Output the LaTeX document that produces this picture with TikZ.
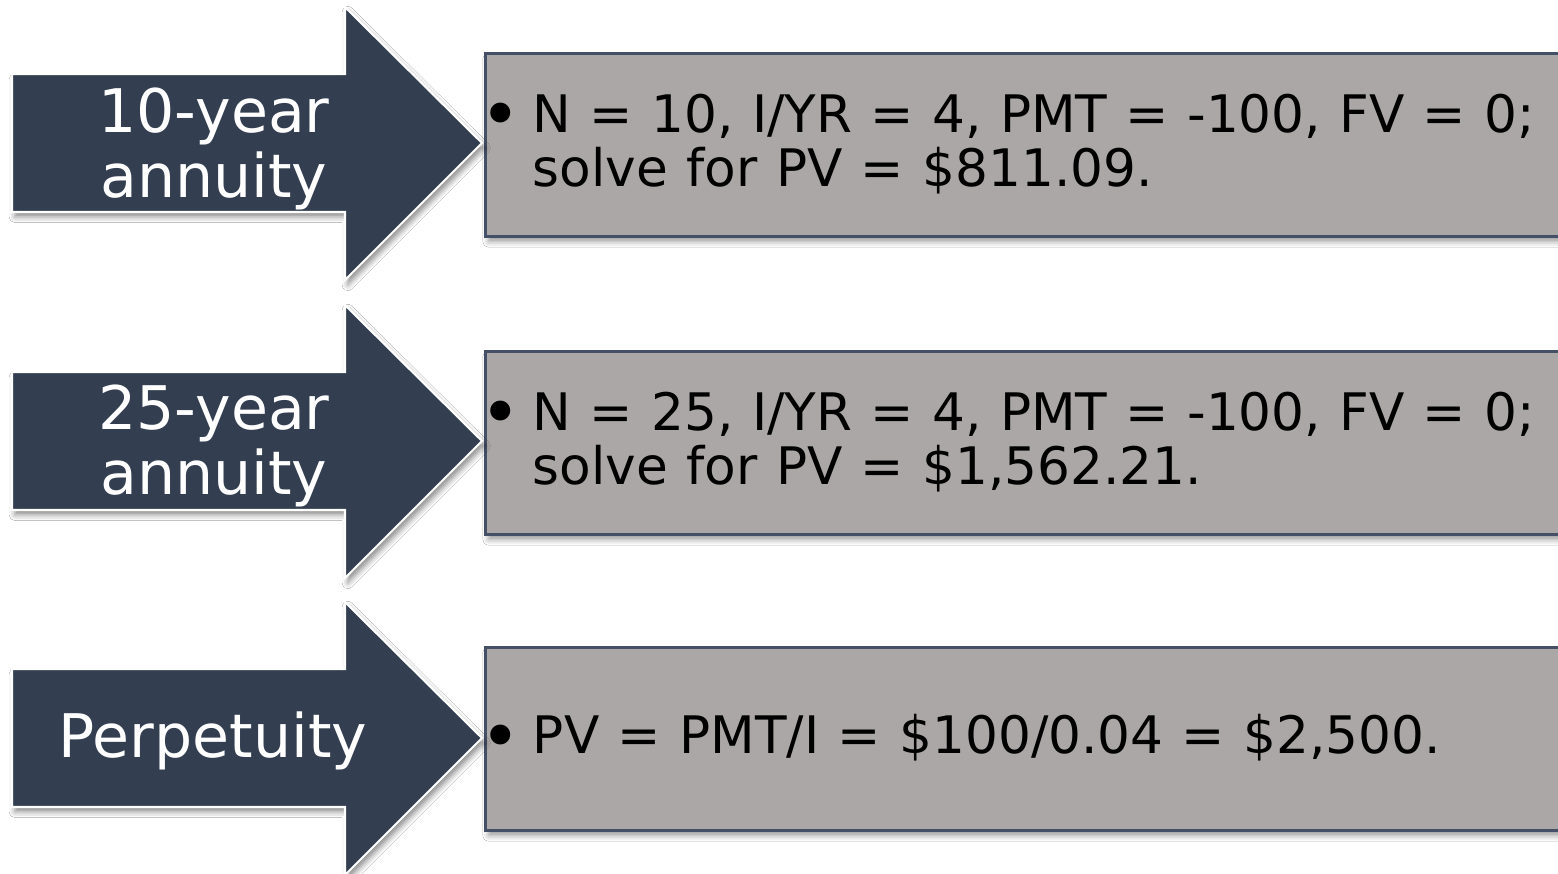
\documentclass[tikz,border=0pt]{standalone}
\usepackage{fontspec}
\setmainfont{DejaVu Sans}
\usetikzlibrary{shadows.blur}
\definecolor{arrowfill}{HTML}{333F50}
\definecolor{boxfill}{HTML}{ABA7A6}
\definecolor{boxline}{HTML}{435066}
\newcommand{\infofont}{\fontsize{14.7}{15.4}\selectfont\spaceskip 0.355em plus 0.1em minus 0.05em\relax}
\newcommand{\bigbul}{\makebox[12.3pt][l]{\hspace*{-2.6pt}\raisebox{-1.9pt}{\fontsize{19.5}{20}\selectfont\textbullet}}}
\begin{document}
\begin{tikzpicture}[x=0.01cm,y=-0.01cm,
  arrowshape/.style={fill=arrowfill, draw=white, line width=0.6pt, line join=miter,
    blur shadow={shadow xshift=0.8pt, shadow yshift=-1.4pt, shadow blur radius=1.6pt, shadow opacity=45}},
  arrowlabel/.style={text=white, align=center, inner sep=0pt,
    font=\fontsize{17.1}{18.5}\selectfont},
  infobox/.style={rectangle, fill=boxfill, draw=boxline, line width=0.9pt,
    anchor=north west, minimum width=11.6cm, minimum height=1.83cm, inner sep=0pt,
    blur shadow={shadow xshift=0.8pt, shadow yshift=-1.4pt, shadow blur radius=1.6pt, shadow opacity=40}},
  infotext/.style={anchor=west, align=left, inner sep=0pt, text=black, font=\infofont}
]
\useasboundingbox (0,0) rectangle (1558,874);
\clip (0,0) rectangle (1558,874);
\fill[white] (0,0) rectangle (1558,874);

% boxes
\node[infobox] (box1) at (484,52) {};
\node[infobox] (box2) at (484,350) {};
\node[infobox] (box3) at (484,646) {};

% arrows
\foreach \yc in {143,441,738}{
  \draw[arrowshape] (12,\yc-69) -- (345,\yc-69) -- (345,\yc-136) -- (482,\yc)
    -- (345,\yc+137) -- (345,\yc+69) -- (12,\yc+69) -- cycle;
}

% arrow labels
\node[arrowlabel] (lab1) at (214,149) {10-year\\annuity};
\node[arrowlabel] (lab2) at (214,446) {25-year\\annuity};
\node[arrowlabel] (lab3) at (213,741) {Perpetuity};

% box texts
\node[infotext] (txt1) at (489,144) {\bigbul N = 10, I/YR = 4, PMT = -100, FV = 0;\\\hspace*{12.3pt}solve for PV = \$811.09.};
\node[infotext] (txt2) at (489,442) {\bigbul N = 25, I/YR = 4, PMT = -100, FV = 0;\\\hspace*{12.3pt}solve for PV = \$1,562.21.};
\node[infotext] (txt3) at (489,738) {\bigbul PV = PMT/I = \$100/0.04 = \$2,500.};
\end{tikzpicture}
\end{document}
